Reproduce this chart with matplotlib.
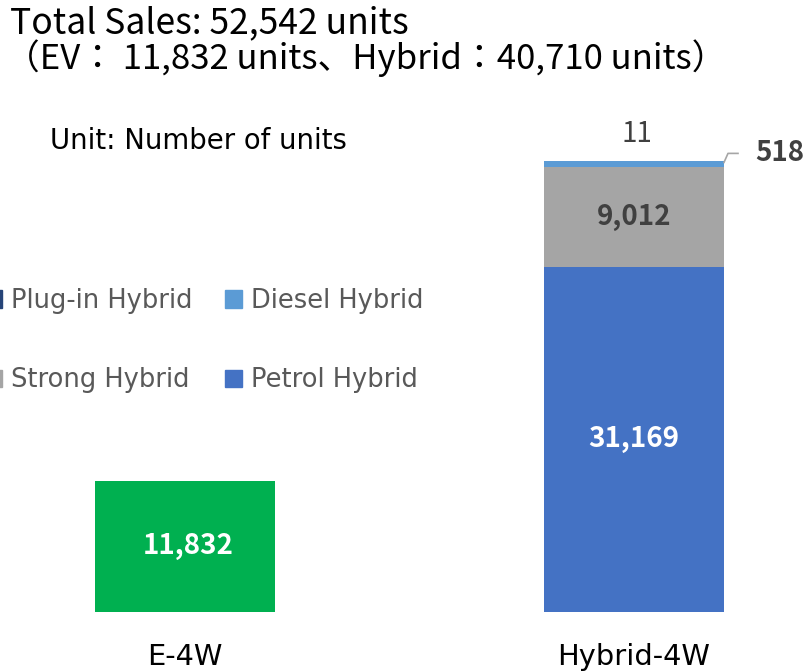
import matplotlib
matplotlib.use("Agg")
import matplotlib.pyplot as plt
from matplotlib.patches import Patch

plt.rcParams['font.family'] = ['Noto Sans CJK JP', 'DejaVu Sans']

categories = ["E-4W", "Hybrid-4W"]
ev_values = [11832, 0]
petrol = [0, 31169]
strong = [0, 9012]
diesel = [0, 518]
plugin = [0, 11]
title_lines = ["Total Sales: 52,542 units", "（EV： 11,832 units、Hybrid：40,710 units）"]
legend_labels = ["Plug-in Hybrid", "Strong Hybrid", "Diesel Hybrid", "Petrol Hybrid"]

W, H = 805, 671
fig = plt.figure(figsize=(W/100, H/100), dpi=100)
base_px = 612
ax = fig.add_axes([0, (H-base_px)/H, 1, base_px/H])
px_per_unit = 131/11832
ax.set_ylim(0, base_px/px_per_unit)
c0, c1 = 185, 634
ppx = c1 - c0
ax.set_xlim(-c0/ppx, (W-c0)/ppx)
ax.axis('off')
u = 1/px_per_unit  # data units per pixel (y)

x = [0, 1]
bw = 180/ppx
c_ev = '#00B050'
c_pet = '#4472C4'
c_str = '#A5A5A5'
c_die = '#5B9BD5'
c_plg = '#264478'

ax.bar(x[0], ev_values[0], width=bw, color=c_ev)
ax.bar(x[1], petrol[1], width=bw, color=c_pet)
ax.bar(x[1], strong[1], bottom=petrol[1], width=bw, color=c_str)
ax.bar(x[1], diesel[1], bottom=petrol[1]+strong[1], width=bw, color=c_die)
ax.bar(x[1], plugin[1], bottom=petrol[1]+strong[1]+diesel[1], width=bw, color=c_plg)

dark = '#404040'
num_font = ['Noto Sans CJK JP', 'DejaVu Sans']
ax.text(x[0]+3/ppx, ev_values[0]/2, f"{ev_values[0]:,}", ha='center', va='center', color='white',
        fontsize=20, fontweight='bold', family=num_font)
ax.text(x[1], petrol[1]/2, f"{petrol[1]:,}", ha='center', va='center', color='white',
        fontsize=20, fontweight='bold', family=num_font)
ax.text(x[1], petrol[1]+strong[1]/2, f"{strong[1]:,}", ha='center', va='center', color=dark,
        fontsize=20, fontweight='bold', family=num_font)
top = petrol[1]+strong[1]+diesel[1]
xr = x[1] + bw/2
ax.plot([xr, xr+4/ppx, xr+14/ppx], [top - 1*u, top + 8*u, top + 8*u], color='#A6A6A6', lw=1.2)
ax.text(xr + 31/ppx, top + 8*u, f"{diesel[1]:,}", ha='left', va='center', color=dark,
        fontsize=20, fontweight='bold', family=num_font)
ax.text(x[1]+3/ppx, top + plugin[1] + 27*u, f"{plugin[1]:,}", ha='center', va='center', color=dark,
        fontsize=20, family=num_font)

for xi, lab in zip(x, categories):
    ax.text(xi, -53*u, lab, ha='center', va='baseline', fontsize=20.8, color='black',
            family=['DejaVu Sans'])

fig.text(10/W, 1-23/H, title_lines[0], ha='left', va='center', fontsize=25.5, color='black')
fig.text(5/W, 1-58/H, title_lines[1], ha='left', va='center', fontsize=25.0, color='black')
fig.text(50/W, 1-141/H, "Unit: Number of units", ha='left', va='center', fontsize=19.8, color='black',
         family=['DejaVu Sans'])

handles = [Patch(color=c_plg), Patch(color=c_str), Patch(color=c_die), Patch(color=c_pet)]
leg = fig.legend(handles, legend_labels, ncol=2, loc='upper left', bbox_to_anchor=(-15/W, 1-288/H),
                 frameon=False, prop={'family': 'DejaVu Sans', 'size': 18.5},
                 handlelength=0.66, handleheight=0.66,
                 handletextpad=0.35, columnspacing=1.28, labelspacing=2.08, borderpad=0, borderaxespad=0)
for t in leg.get_texts():
    t.set_color('#595959')

fig.savefig("out.png", dpi=100)
